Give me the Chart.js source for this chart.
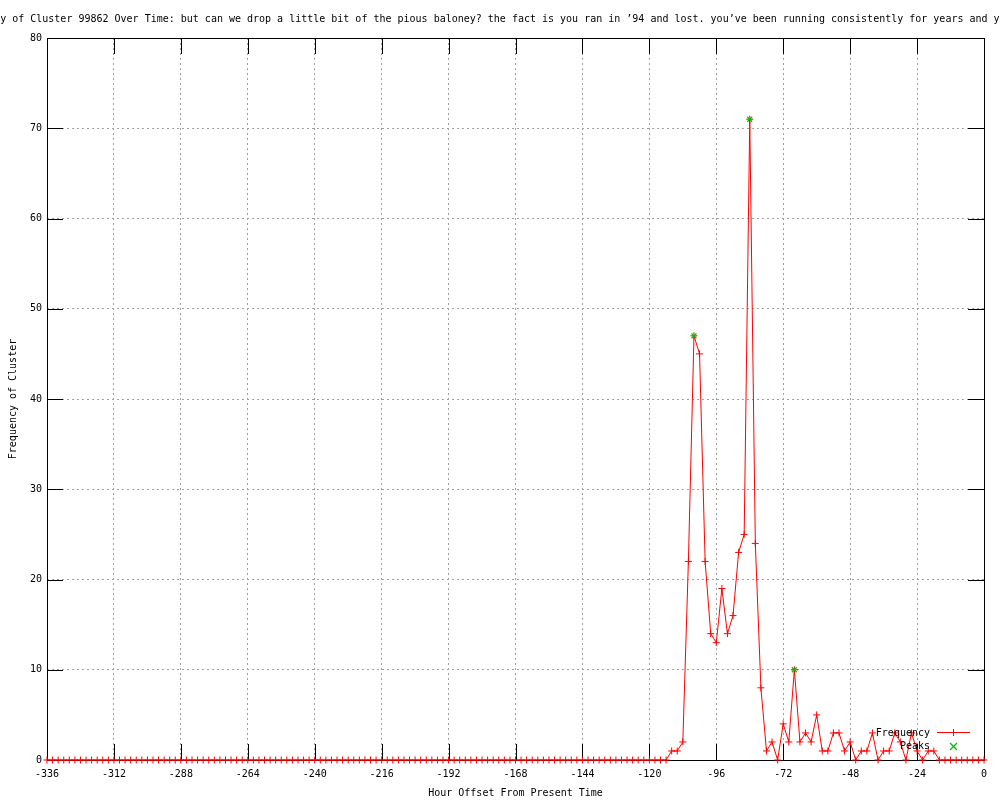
<!DOCTYPE html>
<html>
<head>
<meta charset="utf-8">
<title>Frequency of Cluster 99862 Over Time</title>
<script src="https://cdn.jsdelivr.net/npm/chart.js@4.4.1/dist/chart.umd.min.js"></script>
<style>
  html, body { margin: 0; padding: 0; background: #fff; }
  canvas { display: block; }
</style>
</head>
<body>
<canvas id="chart" width="1000" height="800"></canvas>
<script>
// 2-hour bins, hour offsets
const hours = [
  -336,-334,-332,-330,-328,-326,-324,-322,-320,-318,-316,-314,
  -312,-310,-308,-306,-304,-302,-300,-298,-296,-294,-292,-290,
  -288,-286,-284,-282,-280,-278,-276,-274,-272,-270,-268,-266,
  -264,-262,-260,-258,-256,-254,-252,-250,-248,-246,-244,-242,
  -240,-238,-236,-234,-232,-230,-228,-226,-224,-222,-220,-218,
  -216,-214,-212,-210,-208,-206,-204,-202,-200,-198,-196,-194,
  -192,-190,-188,-186,-184,-182,-180,-178,-176,-174,-172,-170,
  -168,-166,-164,-162,-160,-158,-156,-154,-152,-150,-148,-146,
  -144,-142,-140,-138,-136,-134,-132,-130,-128,-126,-124,-122,
  -120,-118,-116,-114,-112,-110,-108,-106,-104,-102,-100,-98,
  -96,-94,-92,-90,-88,-86,-84,-82,-80,-78,-76,-74,
  -72,-70,-68,-66,-64,-62,-60,-58,-56,-54,-52,-50,
  -48,-46,-44,-42,-40,-38,-36,-34,-32,-30,-28,-26,
  -24,-22,-20,-18,-16,-14,-12,-10,-8,-6,-4,-2,
  0
];
const frequency = [
  0,0,0,0,0,0,0,0,0,0,0,0,
  0,0,0,0,0,0,0,0,0,0,0,0,
  0,0,0,0,0,0,0,0,0,0,0,0,
  0,0,0,0,0,0,0,0,0,0,0,0,
  0,0,0,0,0,0,0,0,0,0,0,0,
  0,0,0,0,0,0,0,0,0,0,0,0,
  0,0,0,0,0,0,0,0,0,0,0,0,
  0,0,0,0,0,0,0,0,0,0,0,0,
  0,0,0,0,0,0,0,0,0,0,0,0,
  0,0,0,0,1,1,2,22,47,45,22,14,
  13,19,14,16,23,25,71,24,8,1,2,0,
  4,2,10,2,3,2,5,1,1,3,3,1,
  2,0,1,1,3,0,1,1,3,2,0,3,
  1,0,1,1,0,0,0,0,0,0,0,0,
  0
];
const peakHours = [-104, -84, -68];
const peakValues = [47, 71, 10];

const xTicks = [-336, -312, -288, -264, -240, -216, -192, -168, -144, -120, -96, -72, -48, -24, 0];
const yTicks = [0, 10, 20, 30, 40, 50, 60, 70, 80];

const titleText = "Frequency of Cluster 99862 Over Time: but can we drop a little bit of the pious baloney? the fact is you ran in ’94 and lost. you’ve been running consistently for years and years";

const MONO = "'DejaVu Sans Mono', monospace";
const RED = '#ff0000';
const GREEN = '#00c000';
const TIC = 16;

function cross(ctx, x, y, r, rot) {
  ctx.beginPath();
  if (rot) {
    ctx.moveTo(x - r, y - r); ctx.lineTo(x + r, y + r);
    ctx.moveTo(x - r, y + r); ctx.lineTo(x + r, y - r);
  } else {
    ctx.moveTo(x - r, y); ctx.lineTo(x + r, y);
    ctx.moveTo(x, y - r); ctx.lineTo(x, y + r);
  }
  ctx.stroke();
}

// border, inward tics, title and key in gnuplot style
const gnuplotFrame = {
  id: 'gnuplotFrame',
  beforeDatasetsDraw(chart) {
    const { ctx, chartArea: a, scales: { x, y } } = chart;
    ctx.save();
    ctx.strokeStyle = '#000';
    ctx.lineWidth = 1;
    ctx.beginPath();
    x.ticks.forEach(t => {
      const px = Math.round(x.getPixelForValue(t.value)) + 0.5;
      ctx.moveTo(px, a.bottom); ctx.lineTo(px, a.bottom - TIC);
      ctx.moveTo(px, a.top); ctx.lineTo(px, a.top + TIC);
    });
    y.ticks.forEach(t => {
      const py = Math.round(y.getPixelForValue(t.value)) + 0.5;
      ctx.moveTo(a.left, py); ctx.lineTo(a.left + TIC, py);
      ctx.moveTo(a.right, py); ctx.lineTo(a.right - TIC, py);
    });
    ctx.stroke();
    ctx.strokeRect(a.left + 0.5, a.top + 0.5, a.right - a.left, a.bottom - a.top);
    ctx.restore();
  },
  afterDraw(chart) {
    const { ctx } = chart;
    ctx.save();
    ctx.fillStyle = '#000';
    ctx.font = '10px ' + MONO;
    ctx.textBaseline = 'middle';
    ctx.textAlign = 'left';
    ctx.fillText(titleText, -48, 19);

    // key
    ctx.textAlign = 'right';
    ctx.fillText('Frequency', 930, 733);
    ctx.fillText('Peaks', 930, 746);
    ctx.lineWidth = 1;
    ctx.strokeStyle = RED;
    ctx.beginPath();
    ctx.moveTo(937, 732.5); ctx.lineTo(970, 732.5);
    ctx.stroke();
    cross(ctx, 953.5, 732.5, 3.5, false);
    ctx.strokeStyle = GREEN;
    ctx.lineWidth = 1.3;
    cross(ctx, 953.5, 746.5, 3.5, true);
    ctx.restore();
  }
};

new Chart(document.getElementById('chart'), {
  type: 'line',
  data: {
    datasets: [
      {
        label: 'Peaks',
        data: peakHours.map((h, i) => ({ x: h, y: peakValues[i] })),
        showLine: false,
        borderColor: GREEN,
        backgroundColor: GREEN,
        pointStyle: 'crossRot',
        pointRadius: 3.5,
        pointBorderWidth: 1.3,
        clip: false,
        order: 0
      },
      {
        label: 'Frequency',
        data: hours.map((h, i) => ({ x: h, y: frequency[i] })),
        borderColor: RED,
        backgroundColor: RED,
        borderWidth: 1,
        tension: 0,
        pointStyle: 'cross',
        pointRadius: 3.5,
        pointBorderWidth: 1,
        clip: false,
        order: 1
      }
    ]
  },
  options: {
    responsive: false,
    animation: false,
    layout: { padding: { top: 38, right: 16, left: 0, bottom: 0 } },
    plugins: {
      legend: { display: false },
      tooltip: { enabled: false }
    },
    scales: {
      x: {
        type: 'linear',
        min: -336,
        max: 0,
        afterBuildTicks: s => { s.ticks = xTicks.map(v => ({ value: v })); },
        afterFit: s => { s.height = 40; },
        grid: { color: '#a0a0a0', lineWidth: 1, drawTicks: false },
        border: { display: false, dash: [2, 3] },
        ticks: { color: '#000', padding: 8, maxRotation: 0, autoSkip: false, font: { family: MONO, size: 10 } },
        title: {
          display: true,
          text: 'Hour Offset From Present Time',
          color: '#000',
          font: { family: MONO, size: 10 },
          padding: { top: 0, bottom: 1 }
        }
      },
      y: {
        type: 'linear',
        min: 0,
        max: 80,
        afterBuildTicks: s => { s.ticks = yTicks.map(v => ({ value: v })); },
        afterFit: s => { s.width = 47; },
        grid: { color: '#a0a0a0', lineWidth: 1, drawTicks: false },
        border: { display: false, dash: [2, 3] },
        ticks: { color: '#000', padding: 5, font: { family: MONO, size: 10 } },
        title: {
          display: true,
          text: 'Frequency of Cluster',
          color: '#000',
          font: { family: MONO, size: 10 },
          padding: { top: 7, bottom: 0 }
        }
      }
    }
  },
  plugins: [gnuplotFrame]
});
</script>
</body>
</html>
